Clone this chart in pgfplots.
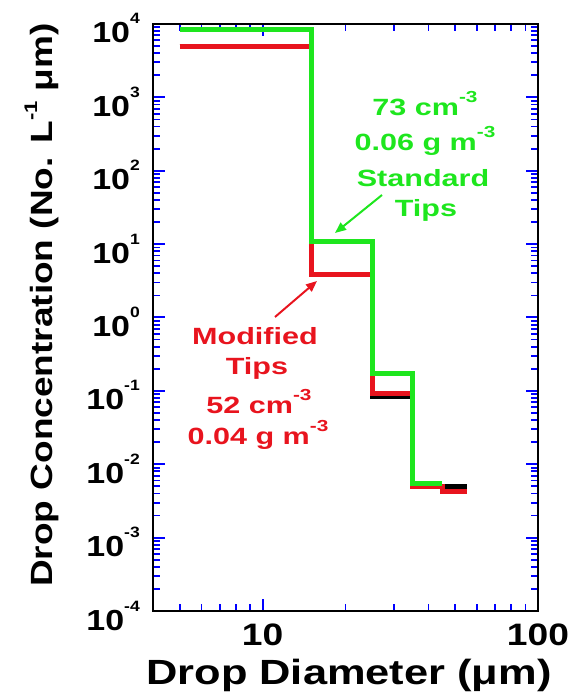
\documentclass[border=0pt]{standalone}
\usepackage{pgfplots}
\pgfplotsset{compat=1.18}
\usepackage{fontspec}
\setmainfont{Liberation Sans}
\usetikzlibrary{arrows.meta}
\definecolor{sgreen}{RGB}{30,230,30}
\definecolor{mred}{RGB}{232,20,30}
\newcommand{\tl}[1]{\scalebox{1.17}[1]{\fontsize{29}{29}\selectfont\bfseries 10\raisebox{19pt}{\fontsize{15}{15}\selectfont #1}}}
\newcommand{\sups}[1]{\raisebox{13pt}{\fontsize{16}{16}\selectfont #1}}
\newcommand{\ann}[1]{\scalebox{1.3}[1]{\fontsize{23.5}{23.5}\selectfont\bfseries #1}}
\begin{document}
\begin{tikzpicture}
\begin{axis}[
  at={(0pt,0pt)}, anchor=south west,
  scale only axis, width=385pt, height=587pt,
  xmode=log, ymode=log,
  xmin=4, xmax=100, ymin=1e-4, ymax=1e4,
  axis line style={line width=1.3pt},
  tick align=inside,
  major tick length=12pt, minor tick length=7pt,
  major tick style={draw=blue, line width=2pt},
  minor tick style={draw=blue, line width=1.8pt},
  xtick={10,100},
  xticklabels={\scalebox{1.2}[1]{\fontsize{31}{31}\selectfont\bfseries 10},\scalebox{1.2}[1]{\fontsize{31}{31}\selectfont\bfseries 100}},
  minor xtick={5,6,7,8,9,20,30,40,50,60,70,80,90},
  xticklabel style={anchor=base, yshift=-34pt, inner sep=0pt},
  ytick={1e-4,1e-3,1e-2,1e-1,1,10,100,1000,10000},
  yticklabels={\tl{-4},\tl{-3},\tl{-2},\tl{-1},\tl{0},\tl{1},\tl{2},\tl{3},\tl{4}},
  yticklabel style={anchor=base east, inner sep=0pt, xshift=-13pt, yshift=-19pt},
  minor ytick={2e-4,3e-4,4e-4,5e-4,6e-4,7e-4,8e-4,9e-4,
    2e-3,3e-3,4e-3,5e-3,6e-3,7e-3,8e-3,9e-3,
    2e-2,3e-2,4e-2,5e-2,6e-2,7e-2,8e-2,9e-2,
    0.2,0.3,0.4,0.5,0.6,0.7,0.8,0.9,
    2,3,4,5,6,7,8,9,20,30,40,50,60,70,80,90,
    200,300,400,500,600,700,800,900,2000,3000,4000,5000,6000,7000,8000,9000},
  xlabel={\scalebox{1.24}[1]{\fontsize{35}{35}\selectfont\bfseries Drop Diameter (μm)}},
  xlabel style={at={(axis description cs:0.509,-0.126)}, anchor=base, inner sep=0pt},
  ylabel={\scalebox{1}[0.83]{\fontsize{37}{37}\selectfont\bfseries Drop Concentration (No. L\raisebox{18pt}{\fontsize{22}{22}\selectfont -1} μm)}},
  ylabel style={at={(axis description cs:-0.2623,0.5213)}, anchor=base, inner sep=0pt, rotate=0},
]
\addplot[black, line width=5pt, const plot mark left] coordinates {
  (5,4860) (15,3.86) (25,0.083) (35,0.0049) (45,0.0049) (55,0.0049)};
\addplot[mred, line width=5pt, const plot mark left] coordinates {
  (5,4860) (15,3.86) (25,0.091) (35,0.0049) (45,0.0043) (55,0.0043)};
\addplot[sgreen, line width=5pt, const plot mark left] coordinates {
  (5,8420) (15,10.7) (25,0.173) (35,0.0055) (45,0.0055)};
\end{axis}
\node[anchor=base, text=sgreen, inner sep=0pt] at (272pt,495pt) {\ann{73 cm\sups{-3}}};
\node[anchor=base, text=sgreen, inner sep=0pt] at (272pt,460pt) {\ann{0.06 g m\sups{-3}}};
\node[anchor=base, text=sgreen, inner sep=0pt] at (270pt,424pt) {\ann{Standard}};
\node[anchor=base, text=sgreen, inner sep=0pt] at (273pt,394pt) {\ann{Tips}};
\draw[sgreen, line width=2pt, -{Triangle[length=11pt,width=9pt]}] (229pt,416pt) -- (182pt,378pt);
\node[anchor=base, text=mred, inner sep=0pt] at (102pt,266pt) {\ann{Modified}};
\node[anchor=base, text=mred, inner sep=0pt] at (104pt,236pt) {\ann{Tips}};
\node[anchor=base, text=mred, inner sep=0pt] at (106pt,197pt) {\ann{52 cm\sups{-3}}};
\node[anchor=base, text=mred, inner sep=0pt] at (105pt,166pt) {\ann{0.04 g m\sups{-3}}};
\draw[mred, line width=2pt, -{Triangle[length=11pt,width=9pt]}] (122pt,294pt) -- (164pt,330pt);
\path[use as bounding box] (-153pt,-84pt) rectangle (417pt,611pt);
\end{tikzpicture}
\end{document}
